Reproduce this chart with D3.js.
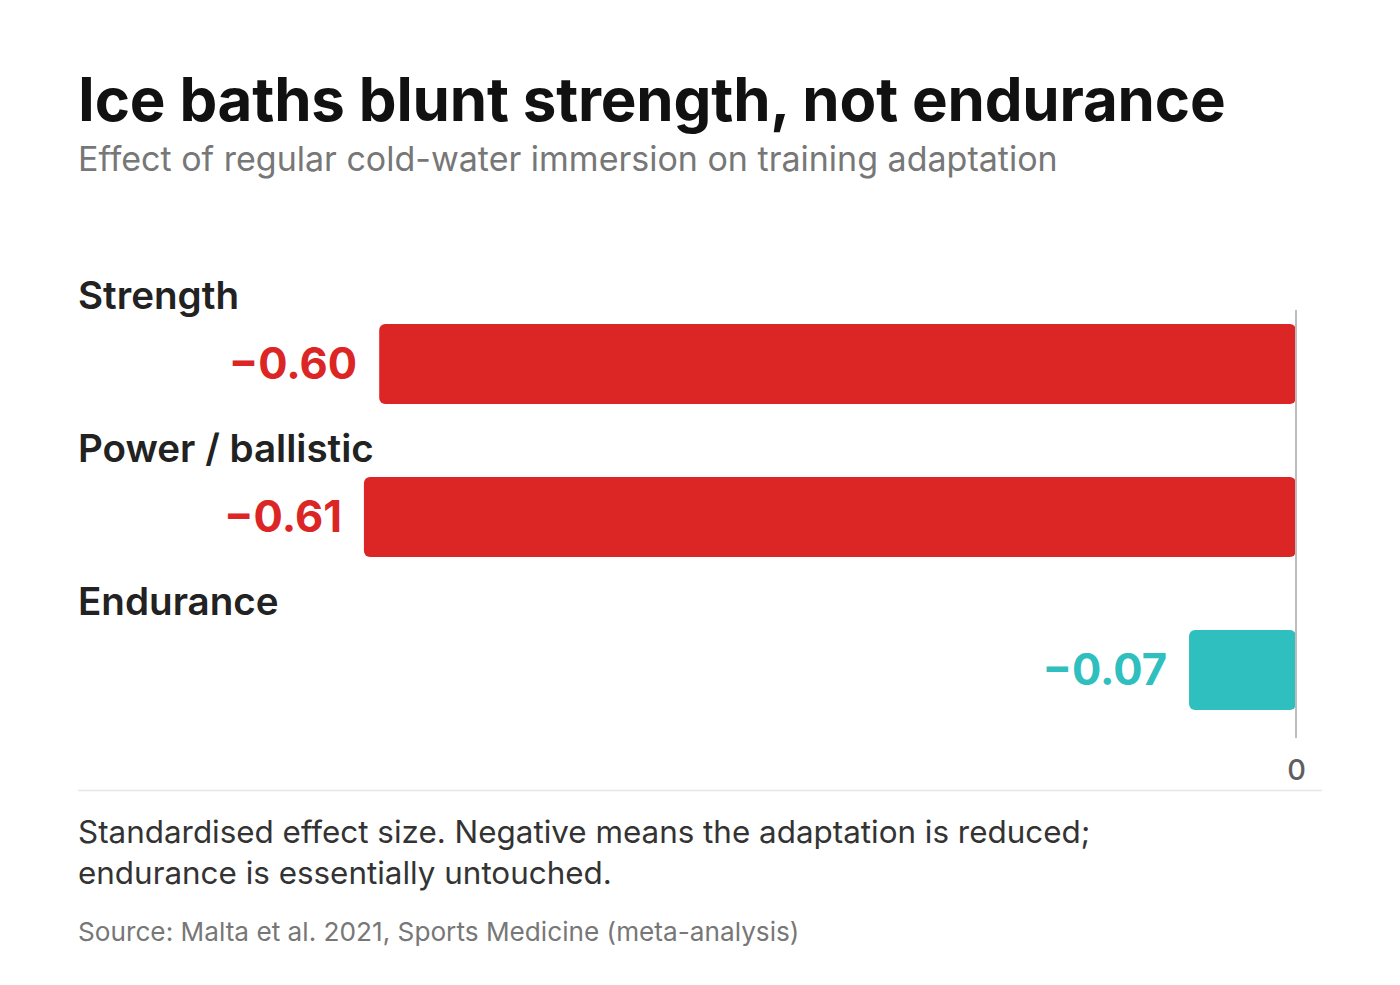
<!DOCTYPE html>
<html>
<head>
<meta charset="utf-8">
<script src="https://cdn.jsdelivr.net/npm/d3@7"></script>
<style>
  html, body { margin: 0; padding: 0; background: #fff; }
  svg { display: block; font-family: Inter, "Noto Sans", sans-serif; }
</style>
</head>
<body>
<svg id="chart" width="1400" height="985"></svg>
<script>
const categories = ["Strength", "Power / ballistic", "Endurance"];
const values = [-0.60, -0.61, -0.07];
const valueLabels = ["\u22120.60", "\u22120.61", "\u22120.07"];
const barColors = ["#dc2626", "#dc2626", "#2ebfbe"];
const xTicks = [0];
const title = "Ice baths blunt strength, not endurance";
const subtitle = "Effect of regular cold-water immersion on training adaptation";
const noteLines = ["Standardised effect size. Negative means the adaptation is reduced;", "endurance is essentially untouched."];
const source = "Source: Malta et al. 2021, Sports Medicine (meta-analysis)";

const svg = d3.select("#chart");

svg.append("text").attr("x", 78).attr("y", 121)
  .attr("font-size", 60).attr("font-weight", 700).attr("fill", "#111")
  .attr("letter-spacing", -0.18)
  .text(title);
svg.append("text").attr("x", 78).attr("y", 171)
  .attr("font-size", 34).attr("font-weight", 400).attr("fill", "#777")
  .text(subtitle);

const x = d3.scaleLinear().domain([-0.8, 0]).range([73.6, 1296]);
const y = d3.scaleBand().domain(categories).range([270, 729]).paddingInner(0);
const barH = 80;

const rows = svg.append("g").selectAll("g").data(categories).join("g")
  .attr("transform", d => `translate(0,${y(d)})`);

rows.append("text").attr("x", 78).attr("y", 38.5)
  .attr("font-size", 38.6).attr("font-weight", 600).attr("fill", "#222")
  .text(d => d);

rows.append("rect")
  .attr("x", (d, i) => x(values[i]))
  .attr("y", 54)
  .attr("width", (d, i) => x(0) - x(values[i]))
  .attr("height", barH)
  .attr("rx", 6).attr("ry", 6)
  .attr("fill", (d, i) => barColors[i]);

rows.append("text")
  .attr("x", (d, i) => x(values[i]) - 22)
  .attr("y", 54 + barH / 2 + 15)
  .attr("text-anchor", "end")
  .attr("font-size", 43.5).attr("font-weight", 700)
  .attr("fill", (d, i) => barColors[i])
  .text((d, i) => valueLabels[i]);

// zero line
svg.append("line").attr("x1", x(0)).attr("x2", x(0)).attr("y1", 310).attr("y2", 738)
  .attr("stroke", "#bdbdbd").attr("stroke-width", 2);

const axis = d3.axisBottom(x).tickValues(xTicks).tickSize(0).tickFormat(d3.format("d"));
const ag = svg.append("g").attr("transform", "translate(0,748)").call(axis);
ag.select(".domain").remove();
ag.selectAll("text").attr("font-size", 29).attr("font-weight", 500).attr("fill", "#5f5f5f")
  .attr("font-family", "Inter, sans-serif").attr("dy", "1em");

svg.append("line").attr("x1", 78).attr("x2", 1322).attr("y1", 790.5).attr("y2", 790.5)
  .attr("stroke", "#e6e6e6").attr("stroke-width", 1.5);

svg.append("g").selectAll("text").data(noteLines).join("text")
  .attr("x", 78).attr("y", (d, i) => 843 + i * 41)
  .attr("font-size", 31.4).attr("fill", "#333")
  .text(d => d);

svg.append("text").attr("x", 78).attr("y", 941)
  .attr("font-size", 26.2).attr("fill", "#777")
  .text(source);
</script>
</body>
</html>
